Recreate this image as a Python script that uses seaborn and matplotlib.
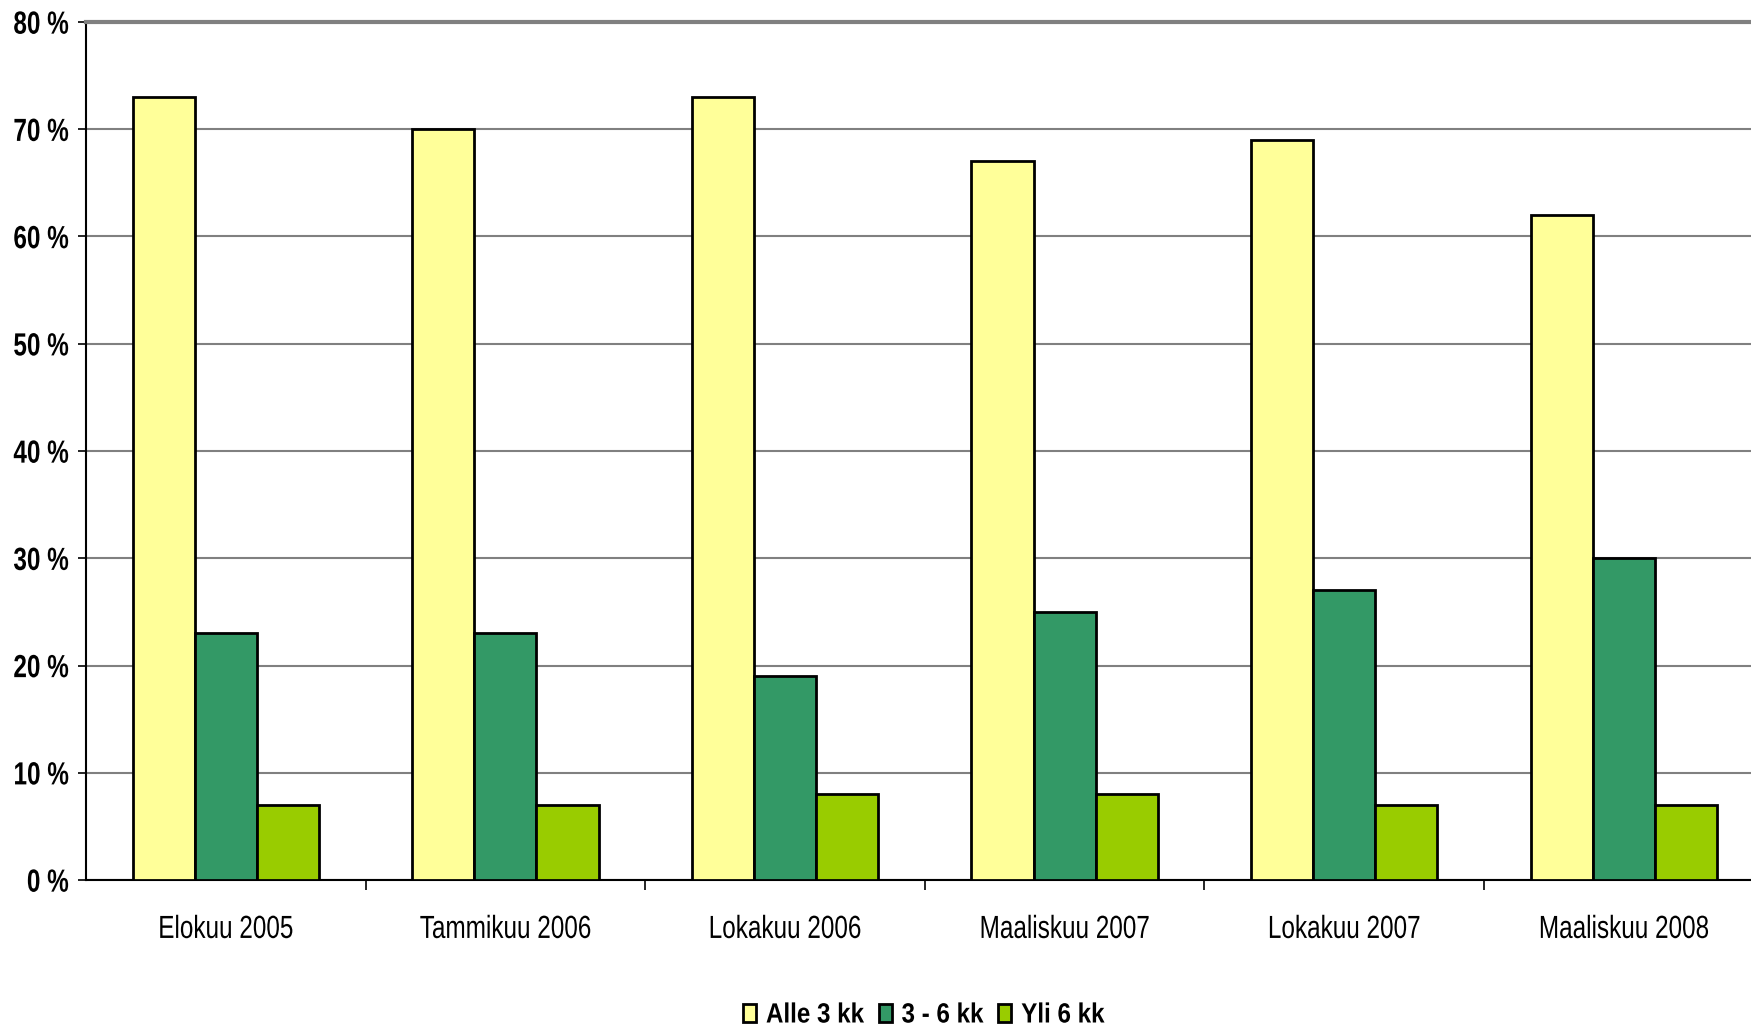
import pandas as pd
import numpy as np
from matplotlib import pyplot as plt
from matplotlib.patheffects import AbstractPathEffect
from matplotlib.transforms import Affine2D
import seaborn as sns

sns.set_style('white')
plt.rcParams['font.family'] = ['Liberation Sans', 'DejaVu Sans']
plt.rcParams['text.color'] = 'black'
plt.rcParams['xtick.color'] = 'black'
plt.rcParams['ytick.color'] = 'black'

# data
periods = ['Elokuu 2005', 'Tammikuu 2006', 'Lokakuu 2006', 'Maaliskuu 2007', 'Lokakuu 2007', 'Maaliskuu 2008']
groups = ['Alle 3 kk', '3 - 6 kk', 'Yli 6 kk']
alle3 = [73, 70, 73, 67, 69, 62]
kk3_6 = [23, 23, 19, 25, 27, 30]
yli6 = [7, 7, 8, 8, 7, 7]
colors = ['#FFFF99', '#339966', '#99CC00']

df = pd.DataFrame({
    'period': periods * 3,
    'group': [g for g in groups for _ in periods],
    'value': alle3 + kk3_6 + yli6,
})


# no narrow Arial installed: use a smaller size and stretch the glyphs upward
class Tall(AbstractPathEffect):
    def __init__(self, sy=1.3):
        super().__init__()
        self.sy = sy

    def draw_path(self, renderer, gc, tpath, affine, rgbFace=None):
        ext = tpath.get_extents()
        cy = (ext.y0 + ext.y1) / 2
        t = Affine2D().translate(0, -cy).scale(1, self.sy).translate(0, cy) + affine
        renderer.draw_path(gc, tpath, t, rgbFace)


fig = plt.figure(figsize=(17.51, 10.29), dpi=100)
ax = fig.add_axes([86/1751, 149/1029, 1 - 86/1751, (880-22)/1029])

sns.barplot(data=df, x='period', y='value', hue='group', order=periods, hue_order=groups,
            palette=colors, saturation=1, width=0.667, gap=0, edgecolor='black', linewidth=2,
            ax=ax, zorder=3, legend=True)

ax.set_ylim(0, 80)
ax.set_xlim(-0.5, -0.5 + (1751-86)/279.6)
ax.set_yticks(range(0, 81, 10))
ax.set_yticklabels([f'{v} %' for v in range(0, 81, 10)], fontsize=17.5, fontweight='bold')
ax.yaxis.grid(True, color='#808080', linewidth=1.5, zorder=0)
ax.set_axisbelow(True)
ax.tick_params(axis='y', length=6, width=1.2, pad=6.5, left=True)

# category labels centered, ticks at group boundaries
ax.set_xticks(range(len(periods)))
ax.set_xticklabels(periods, fontsize=17.5)
ax.tick_params(axis='x', which='major', length=0, pad=27.5)
ax.set_xticks([i + 0.5 for i in range(len(periods) - 1)], minor=True)
ax.tick_params(axis='x', which='minor', length=7, width=1.2, bottom=True)

for t in ax.get_yticklabels() + ax.get_xticklabels():
    t.set_path_effects([Tall(1 / 0.76)])

ax.set_xlabel('')
ax.set_ylabel('')
for s in ['left', 'bottom']:
    ax.spines[s].set_color('black')
    ax.spines[s].set_linewidth(1.5)
ax.spines['right'].set_visible(False)
ax.spines['top'].set_color('#808080')
ax.spines['top'].set_linewidth(3)

leg = ax.legend(loc='center', bbox_to_anchor=(0.503, -0.157), ncol=3, frameon=False,
                prop={'size': 17.4, 'weight': 'bold'}, handlelength=0.54, handleheight=0.74,
                handletextpad=0.41, columnspacing=0.62, borderaxespad=0)
for t in leg.get_texts():
    t.set_path_effects([Tall(1 / 0.87)])

fig.savefig('out.png', dpi=100)
